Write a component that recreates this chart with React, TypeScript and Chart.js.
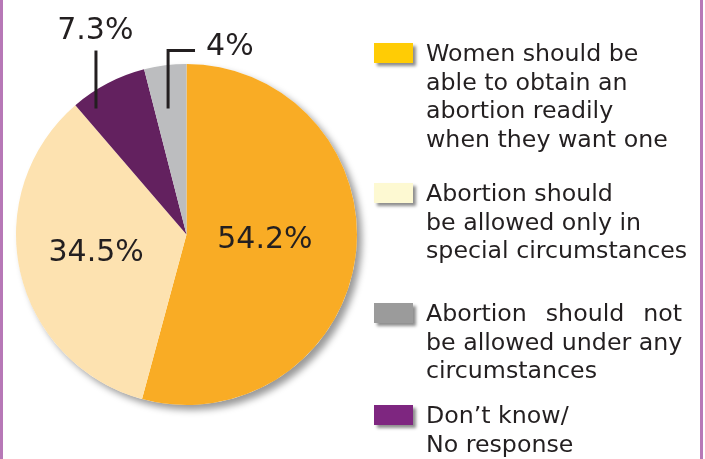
import React, { useEffect, useRef } from "react";
import { Chart, registerables, ArcElement } from "chart.js";

Chart.register(...registerables);

// survey answers, in slice order (clockwise from 12 o'clock)
const answers: string[][] = [
    ["Women should be", "able to obtain an", "abortion readily", "when they want one"],
    ["Abortion should", "be allowed only in", "special circumstances"],
    ["Don\u2019t know/", "No response"],
    ["Abortion  should  not", "be allowed under any", "circumstances"],
];
const shares: number[] = [54.2, 34.5, 7.3, 4];
const shareLabels: string[] = ["54.2%", "34.5%", "7.3%", "4%"];
const sliceColors: string[] = ["#F9AC25", "#FDE2B0", "#63215F", "#BCBDBF"];
const keyColors: string[] = ["#FFCC05", "#FDF9D2", "#7E2680", "#9B9B9B"];

// legend lists grey before purple
const legendOrder = [0, 1, 3, 2];
const legendTops = [39, 179, 299, 401];

const FONT = "'DejaVu Sans', Verdana, sans-serif";
const INK = "#231F20";

// drop shadow under the whole pie
const pieShadow = {
    id: "pieShadow",
    beforeDatasetsDraw(chart: Chart) {
        const arc = chart.getDatasetMeta(0).data[0] as ArcElement;
        if (!arc) return;
        const { x, y, outerRadius } = arc.getProps(["x", "y", "outerRadius"], true);
        const ctx = chart.ctx;
        ctx.save();
        ctx.shadowColor = "rgba(0,0,0,0.4)";
        ctx.shadowBlur = 7;
        ctx.shadowOffsetX = 5;
        ctx.shadowOffsetY = 5;
        ctx.fillStyle = "#fff";
        ctx.beginPath();
        ctx.arc(x, y, outerRadius, 0, Math.PI * 2);
        ctx.fill();
        ctx.restore();
    },
};

// value labels, two inside and two with leader lines
const sliceLabels = {
    id: "sliceLabels",
    afterDatasetsDraw(chart: Chart) {
        const arc = chart.getDatasetMeta(0).data[0] as ArcElement;
        if (!arc) return;
        const { x: cx, y: cy, outerRadius: r } = arc.getProps(["x", "y", "outerRadius"], true);
        const ctx = chart.ctx;
        ctx.save();
        ctx.fillStyle = INK;
        ctx.strokeStyle = INK;
        ctx.lineWidth = 3;
        ctx.font = `30px ${FONT}`;
        ctx.textBaseline = "middle";

        // inside
        ctx.textAlign = "center";
        ctx.fillText(shareLabels[0], cx + 0.46 * r, cy + 0.035 * r);
        ctx.fillText(shareLabels[1], cx - 0.53 * r, cy + 0.11 * r);

        // purple slice
        ctx.beginPath();
        ctx.moveTo(cx - 0.531 * r, cy - 0.739 * r);
        ctx.lineTo(cx - 0.531 * r, cy - 1.079 * r);
        ctx.stroke();
        ctx.fillText(shareLabels[2], cx - 0.535 * r, cy - 1.19 * r);

        // grey slice
        ctx.beginPath();
        ctx.moveTo(cx - 0.108 * r, cy - 0.739 * r);
        ctx.lineTo(cx - 0.108 * r, cy - 1.079 * r);
        ctx.lineTo(cx + 0.05 * r, cy - 1.079 * r);
        ctx.stroke();
        ctx.textAlign = "left";
        ctx.fillText(shareLabels[3], cx + 0.115 * r, cy - 1.1 * r);
        ctx.restore();
    },
};

const App: React.FC = (): JSX.Element => {
    const canvasRef = useRef<HTMLCanvasElement>(null);

    useEffect(() => {
        if (!canvasRef.current) return;
        const chart = new Chart(canvasRef.current, {
            type: "pie",
            data: {
                labels: answers.map((a) => a.join(" ")),
                datasets: [{ data: shares, backgroundColor: sliceColors, borderWidth: 0 }],
            },
            options: {
                responsive: false,
                animation: false,
                layout: { padding: { left: 16, right: 348, top: 64, bottom: 54 } },
                plugins: { legend: { display: false }, tooltip: { enabled: false } },
            },
            plugins: [pieShadow, sliceLabels],
        });
        return () => chart.destroy();
    }, []);

    return (
        <div style={{ position: "absolute", left: 0, top: 0, width: 705, height: 459, background: "#fff", overflow: "hidden", fontFamily: FONT, color: INK }}>
            <canvas ref={canvasRef} width={705} height={459} style={{ position: "absolute", left: 0, top: 0 }}></canvas>
            <div style={{ position: "absolute", left: 0, top: 0, width: 3, height: 459, background: "#B778B7" }}></div>
            <div style={{ position: "absolute", left: 700, top: 0, width: 3, height: 459, background: "#B778B7" }}></div>
            {legendOrder.map((i, k) => (
                <div key={i} style={{ position: "absolute", left: 0, top: legendTops[k] }}>
                    <div style={{ position: "absolute", left: 374, top: 4, width: 39, height: 20, background: keyColors[i], boxShadow: "3px 3px 3px rgba(0,0,0,0.45)" }}></div>
                    <div style={{ position: "absolute", left: 426, top: 0, width: 256, fontSize: 23.7, lineHeight: "28.5px", whiteSpace: "pre" }}>
                        {answers[i].map((line, j) => (
                            <div key={j} style={j === 0 && i === 3 ? { whiteSpace: "normal", textAlign: "justify", textAlignLast: "justify" } : undefined}>{line}</div>
                        ))}
                    </div>
                </div>
            ))}
        </div>
    );
};

export default App;
